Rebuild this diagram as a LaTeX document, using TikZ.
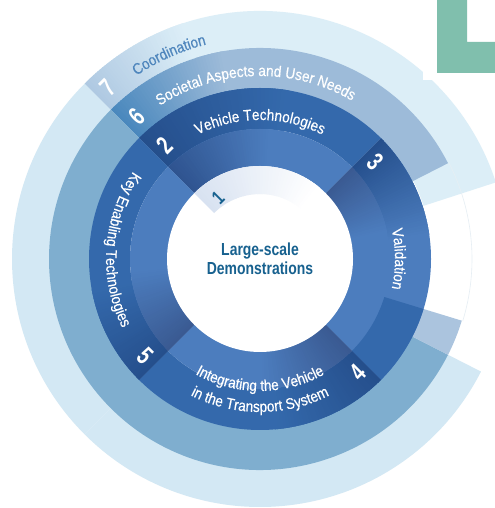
\documentclass[tikz,border=0pt]{standalone}
\usepackage{fontspec}
\setmainfont{Liberation Sans}
\newfontfamily\condfont[FakeStretch=0.88,FakeBold=0.4]{Liberation Sans}
\newfontfamily\titlefont[FakeStretch=0.8]{Liberation Sans}
\newfontfamily\numfont[FakeStretch=0.72]{Liberation Sans}
\usetikzlibrary{decorations.text}
% colours
\definecolor{ringSeven}{HTML}{DCEEF7}
\definecolor{ringSevenL}{HTML}{D3E8F4}
\definecolor{sevenDark}{HTML}{AFC9E2}
\definecolor{ringSix}{HTML}{9DBBD9}
\definecolor{ringSixL}{HTML}{7FAECF}
\definecolor{ringSixD}{HTML}{4A88BD}
\definecolor{ringSixEnd}{HTML}{ABC4DE}
\definecolor{outerBlue}{HTML}{3469AC}
\definecolor{outerDark}{HTML}{254F8C}
\definecolor{innerBlue}{HTML}{4C7DBE}
\definecolor{innerDark}{HTML}{2F5490}
\definecolor{segDark}{HTML}{3A5A92}
\definecolor{titleBlue}{HTML}{17618F}
\definecolor{coordBlue}{HTML}{4F86BD}
\definecolor{greenL}{HTML}{80BFAD}
\definecolor{faintLine}{HTML}{E6EEF4}
\definecolor{oneStart}{HTML}{D8E2F1}
\tikzset{
  numlabel/.style={font=\numfont\bfseries\fontsize{26}{26}\selectfont,text=white,inner sep=0pt},
  titlelabel/.style={font=\titlefont\bfseries\fontsize{17.5}{19.5}\selectfont,text=titleBlue,align=center,inner sep=0pt},
  faint/.style={draw=faintLine,line width=0.6pt}
}
\newcommand{\sect}[5]{% r1 r2 a1 a2 colour
  \fill[#5] (#3:#1) arc (#3:#4:#1) -- (#4:#2) arc (#4:#3:#2) -- cycle;}
% gradient sector from a1 (colour c1) towards a2 (colour c2), a1>a2
\newcommand{\gradsect}[6]{%
  \foreach \gi in {0,...,39}{%
    \pgfmathsetmacro{\ga}{#3+(#4-#3)*\gi/40}%
    \pgfmathsetmacro{\gc}{#3+(#4-#3)*min(\gi+1.4,40)/40}%
    \pgfmathtruncatemacro{\gm}{100-\gi*100/39}%
    \colorlet{gcol}{#5!\gm!#6}%
    \fill[gcol] (\ga:#1) arc (\ga:\gc:#1) -- (\gc:#2) arc (\gc:\ga:#2) -- cycle;}%
}
\newcommand{\arclabel}[6]{% radius a1 a2 size colour text
  \path[decorate,decoration={text along path,text align=center,
     text color=#5,
     text={|\condfont\fontsize{#4}{#4}\selectfont|#6}}]
     (#2:#1) arc (#2:#3:#1);}
\begin{document}
\begin{tikzpicture}[x=1bp,y=1bp]
\useasboundingbox (0,0) rectangle (495,508);
\fill[white] (0,0) rectangle (495,508);
\begin{scope}
\clip (0,0) rectangle (495,508);
\begin{scope}[shift={(260,249)}]
% ring 7
\sect{172}{248}{135}{18}{ringSeven}
\sect{172}{248}{225}{333}{ringSevenL}
\sect{172}{248}{135}{225}{ringSevenL}
\gradsect{210}{248}{135}{108}{sevenDark}{ringSeven}
% ring 6
\sect{170}{211}{108}{27}{ringSix}
\gradsect{170}{211}{135}{100}{ringSixD}{ringSix}
\sect{170}{211}{135}{333}{ringSixL}
\sect{170}{211}{333}{343}{ringSixEnd}
\draw[faint] (27:212) arc (27:-17:212);
% outer dark ring
\sect{130}{171}{135}{45}{outerBlue}
\gradsect{130}{171}{135}{80}{outerDark}{outerBlue}
\sect{90}{130}{135}{45}{innerBlue}
\gradsect{90}{130}{135}{85}{innerDark}{innerBlue}
% 3 -> validation
\sect{90}{171}{45}{-45}{innerBlue}
\sect{130}{171}{-17}{-45}{outerBlue}
\gradsect{130}{171}{45}{8}{outerDark}{innerBlue}
\gradsect{90}{130}{45}{12}{segDark}{innerBlue}
% 4
\sect{130}{171}{-45}{-135}{outerBlue}
\sect{90}{130}{-45}{-135}{innerBlue}
\gradsect{130}{171}{-45}{-85}{outerDark}{outerBlue}
\gradsect{90}{130}{-45}{-90}{segDark}{innerBlue}
% 5
\sect{130}{171}{-135}{-225}{outerBlue}
\sect{90}{130}{-135}{-225}{innerBlue}
\gradsect{130}{171}{-135}{-170}{outerDark}{outerBlue}
\gradsect{90}{130}{-135}{-175}{segDark}{innerBlue}
% centre
\fill[white] (0,0) circle (93);
\gradsect{65}{93}{135}{50}{oneStart}{white}
% curved labels
\arclabel{221}{130}{98}{15.5}{coordBlue}{Coordination}
\arclabel{183}{125}{58}{15.5}{white}{Societal Aspects and User Needs}
\arclabel{139}{120}{60}{15.5}{white}{Vehicle Technologies}
\arclabel{135}{16}{-16}{15.5}{white}{Validation}
\arclabel{154}{140}{212}{15.5}{white}{Key Enabling Technologies}
\arclabel{132}{230}{310}{15.5}{white}{Integrating the Vehicle}
\arclabel{153}{235}{305}{15.5}{white}{in the Transport System}
\node[titlelabel] (title) at (0,0) {Large-scale\\Demonstrations};
\end{scope}
% numbers (image coordinates converted)
\node[numlabel,rotate=45] (n7) at (108,420) {7};
\node[numlabel,rotate=45] (n6) at (137,391) {6};
\node[numlabel,rotate=45] (n2) at (165,363) {2};
\node[numlabel,rotate=45,text=titleBlue,font=\numfont\bfseries\fontsize{20}{20}\selectfont] (n1) at (218,310) {1};
\node[numlabel,rotate=-45] (n3) at (375,346) {3};
\node[numlabel,rotate=45] (n4) at (358,135) {4};
\node[numlabel,rotate=-45] (n5) at (145,152) {5};
% logo corner
\fill[white] (423,428) rectangle (495,508);
\fill[greenL] (437,508) -- (437,435) -- (495,435) -- (495,466) -- (467,466) -- (467,508) -- cycle;
\end{scope}
\end{tikzpicture}
\end{document}
